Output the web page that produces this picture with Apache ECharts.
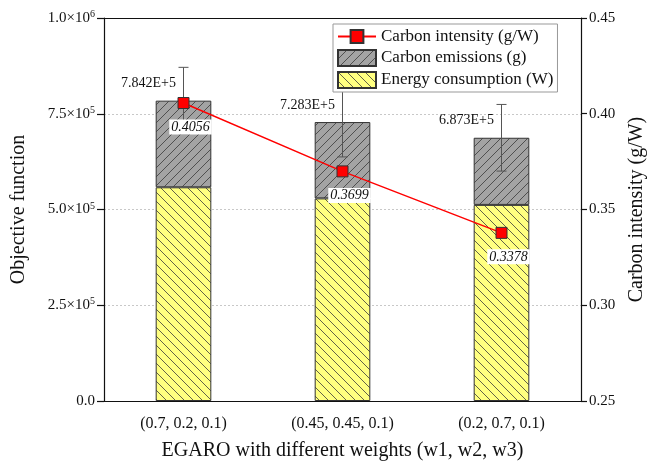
<!DOCTYPE html>
<html>
<head>
<meta charset="utf-8">
<script src="https://cdn.jsdelivr.net/npm/echarts@6/dist/echarts.min.js"></script>
<style>html,body{margin:0;padding:0;background:#fff;}#c{width:648px;height:464px;}</style>
</head>
<body>
<div id="c"></div>
<script>
var categories = ['(0.7, 0.2, 0.1)', '(0.45, 0.45, 0.1)', '(0.2, 0.7, 0.1)'];
var energyValues = [558000, 529000, 512000];
var totalValues = [784200, 728300, 687300];
var totalLabels = ['7.842E+5', '7.283E+5', '6.873E+5'];
var errorValues = [87000, 91000, 87000];
var intensityValues = [0.4056, 0.3699, 0.3378];
var leftTickLabels = { 0: ['0.0', ''], 250000: ['2.5\u00d710', '5'], 500000: ['5.0\u00d710', '5'], 750000: ['7.5\u00d710', '5'], 1000000: ['1.0\u00d710', '6'] };

var FONT = '"Liberation Serif", "Times New Roman", serif';

function makePattern(bg, dir) {
  var s = 9;
  var c = document.createElement('canvas');
  c.width = s; c.height = s;
  var g = c.getContext('2d');
  g.fillStyle = bg; g.fillRect(0, 0, s, s);
  g.strokeStyle = '#3a3a3a'; g.lineWidth = 0.8;
  g.beginPath();
  if (dir === '/') {
    g.moveTo(0, s); g.lineTo(s, 0);
    g.moveTo(-1, 1); g.lineTo(1, -1);
    g.moveTo(s - 1, s + 1); g.lineTo(s + 1, s - 1);
  } else {
    g.moveTo(0, 0); g.lineTo(s, s);
    g.moveTo(-1, s - 1); g.lineTo(1, s + 1);
    g.moveTo(s - 1, -1); g.lineTo(s + 1, 1);
  }
  g.stroke();
  return { image: c, repeat: 'repeat' };
}

var emissionValues = totalValues.map(function (t, i) { return t - energyValues[i]; });
var errData = totalValues.map(function (t, i) { return [i, t, errorValues[i]]; });

var chart = echarts.init(document.getElementById('c'), null, { renderer: 'canvas' });
chart.setOption({
  animation: false,
  backgroundColor: '#fff',
  textStyle: { fontFamily: FONT },
  grid: { left: 104, right: 67, top: 18, bottom: 63, containLabel: false, outerBoundsMode: 'none' },
  legend: {
    orient: 'vertical',
    left: 333, top: 24,
    padding: [4, 4, 3, 4],
    itemGap: 4,
    itemWidth: 38, itemHeight: 16,
    backgroundColor: '#fff',
    borderColor: '#999', borderWidth: 1, borderRadius: 0,
    textStyle: { fontFamily: FONT, fontSize: 17, color: '#111' },
    data: [
      { name: 'Carbon intensity (g/W)' },
      { name: 'Carbon emissions (g)', icon: 'rect' },
      { name: 'Energy consumption (W)', icon: 'rect' }
    ]
  },
  xAxis: [{
    type: 'category',
    data: categories,
    name: 'EGARO with different weights (w1, w2, w3)',
    nameLocation: 'middle', nameGap: 40,
    nameTextStyle: { fontFamily: FONT, fontSize: 20, color: '#111' },
    axisLine: { lineStyle: { color: '#111', width: 1.2 } },
    axisTick: { alignWithLabel: true, length: 6, lineStyle: { color: '#111', width: 1.2 } },
    axisLabel: { fontFamily: FONT, fontSize: 16, color: '#111', margin: 15 }
  }, {
    type: 'category',
    data: categories,
    position: 'top',
    axisLine: { show: true, lineStyle: { color: '#111', width: 1.2 } },
    axisTick: { show: false },
    axisLabel: { show: false }
  }],
  yAxis: [{
    type: 'value',
    min: 0, max: 1000000, interval: 250000,
    name: 'Objective function',
    nameLocation: 'middle', nameGap: 75,
    nameTextStyle: { fontFamily: FONT, fontSize: 20, color: '#111' },
    axisLine: { show: true, lineStyle: { color: '#111', width: 1.2 } },
    axisTick: { show: true, length: 7, lineStyle: { color: '#111', width: 1.2 } },
    splitLine: { show: true, lineStyle: { color: '#c8c8c8', type: [2, 2], width: 1 } },
    axisLabel: {
      margin: 9,
      formatter: function (v) {
        var l = leftTickLabels[v];
        if (!l) return '';
        return l[1] ? '{m|' + l[0] + '}{s|' + l[1] + '}' : '{m|' + l[0] + '}';
      },
      rich: {
        m: { fontFamily: FONT, fontSize: 15, color: '#111', lineHeight: 16 },
        s: { fontFamily: FONT, fontSize: 10, color: '#111', lineHeight: 16, padding: [0, 0, 7, 0] }
      }
    }
  }, {
    type: 'value',
    min: 0.25, max: 0.45, interval: 0.05,
    position: 'right',
    name: 'Carbon intensity (g/W)',
    nameLocation: 'middle', nameGap: 46,
    nameRotate: 90,
    nameTextStyle: { fontFamily: FONT, fontSize: 20, color: '#111' },
    axisLine: { show: true, lineStyle: { color: '#111', width: 1.2 } },
    axisTick: { show: true, length: 6, lineStyle: { color: '#111', width: 1.2 } },
    splitLine: { show: false },
    axisLabel: { fontFamily: FONT, fontSize: 15, color: '#111', margin: 8, formatter: function (v) { return v.toFixed(2); } }
  }],
  series: [{
    name: 'Energy consumption (W)',
    type: 'bar',
    stack: 'obj',
    barWidth: '35%',
    data: energyValues,
    itemStyle: { color: makePattern('#ffff80', '\\'), borderColor: '#333', borderWidth: 1 },
    z: 2
  }, {
    name: 'Carbon emissions (g)',
    type: 'bar',
    stack: 'obj',
    barWidth: '35%',
    data: emissionValues,
    itemStyle: { color: makePattern('#a3a3a3', '/'), borderColor: '#333', borderWidth: 1 },
    label: {
      show: true, position: 'top', distance: 5, offset: [-35, -5],
      fontFamily: FONT, fontSize: 14, color: '#111',
      formatter: function (p) { return totalLabels[p.dataIndex]; }
    },
    z: 2
  }, {
    name: 'err',
    type: 'custom',
    data: errData,
    z: 3,
    renderItem: function (params, api) {
      var i = api.value(0), m = api.value(1), e = api.value(2);
      var top = api.coord([i, m + e]);
      var bot = api.coord([i, m - e]);
      var w = 5;
      var st = { stroke: '#555', lineWidth: 1 };
      return {
        type: 'group',
        children: [
          { type: 'line', shape: { x1: top[0], y1: top[1], x2: bot[0], y2: bot[1] }, style: st },
          { type: 'line', shape: { x1: top[0] - w, y1: top[1], x2: top[0] + w, y2: top[1] }, style: st },
          { type: 'line', shape: { x1: bot[0] - w, y1: bot[1], x2: bot[0] + w, y2: bot[1] }, style: st }
        ]
      };
    }
  }, {
    name: 'Carbon intensity (g/W)',
    type: 'line',
    yAxisIndex: 1,
    data: intensityValues,
    symbol: 'rect', symbolSize: 11,
    lineStyle: { color: '#ff0000', width: 1.5 },
    itemStyle: { color: '#ff0000', borderColor: '#333', borderWidth: 1 },
    label: {
      show: true, position: 'inside', offset: [7, 24],
      fontFamily: FONT, fontSize: 14, fontStyle: 'italic', color: '#111',
      backgroundColor: '#fff', padding: [1, 2, 0, 2],
      formatter: function (p) { return p.value.toFixed(4); }
    },
    z: 5
  }]
});
</script>
</body>
</html>
